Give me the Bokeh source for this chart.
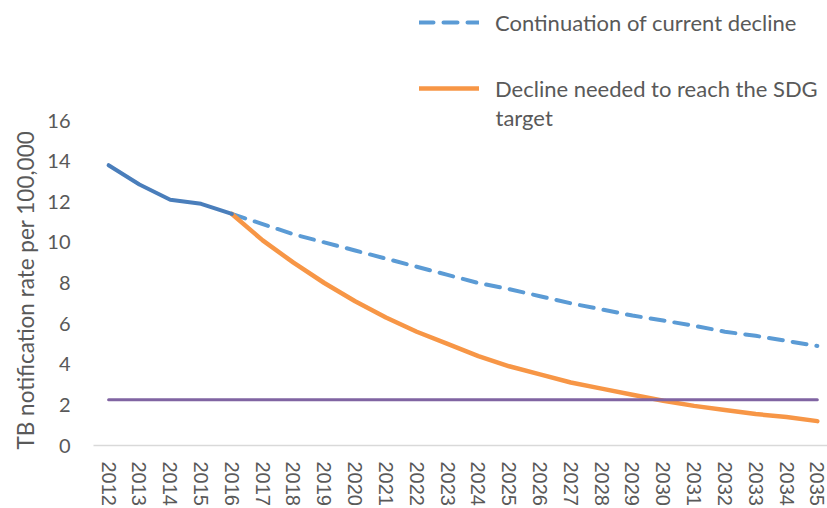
from bokeh.plotting import figure
from bokeh.models import FixedTicker, Legend, LegendItem, Range1d, Title, Label
from bokeh.embed import file_html
from bokeh.resources import INLINE

years = list(range(2012, 2036))
year_labels = [str(y) for y in years]
actual_years = [2012, 2013, 2014, 2015, 2016]
actual = [13.8, 12.85, 12.1, 11.9, 11.4]
proj_years = list(range(2016, 2036))
continuation = [11.4, 10.9, 10.4, 10.0, 9.6, 9.2, 8.8, 8.4, 8.0, 7.7,
                7.35, 7.0, 6.7, 6.4, 6.15, 5.9, 5.6, 5.4, 5.15, 4.9]
sdg_needed = [11.4, 10.1, 9.0, 8.0, 7.1, 6.3, 5.6, 5.0, 4.4, 3.9,
              3.5, 3.1, 2.8, 2.5, 2.2, 1.95, 1.75, 1.55, 1.4, 1.2]
target = [2.25] * len(years)
y_ticks = [0, 2, 4, 6, 8, 10, 12, 14, 16]
legend_labels = ["Continuation of current decline",
                 "Decline needed to reach the SDG", "target"]

TXT = "#595959"
FONT = "Lato"

p = figure(width=827, height=508, output_backend="svg", toolbar_location=None,
           x_range=Range1d(2011.51, 2035.33), y_range=Range1d(0, 21.908),
           min_border_top=0, min_border_right=0, min_border_left=93,
           min_border_bottom=0)
p.outline_line_color = None
p.xgrid.visible = False
p.ygrid.visible = False

r_cont = p.line(proj_years, continuation, line_color="#5B9BD5", line_width=4,
                line_dash="14 10", line_cap="round")
r_sdg = p.line(proj_years, sdg_needed, line_color="#F79646", line_width=4.5,
               line_cap="round")
p.line(actual_years, actual, line_color="#4A7EBB", line_width=4, line_cap="round")
p.line(years, target, line_color="#8064A2", line_width=3, line_cap="round")

xa = p.xaxis[0]
xa.ticker = FixedTicker(ticks=years)
xa.major_label_overrides = {y: s for y, s in zip(years, year_labels)}
xa.major_label_orientation = "vertical"
xa.major_tick_line_color = None
xa.minor_tick_line_color = None
xa.axis_line_color = "#D9D9D9"
xa.axis_line_width = 1.5
xa.major_label_standoff = 10
xa.major_label_text_font = "Liberation Sans"
xa.major_label_text_font_size = "20px"
xa.major_label_text_color = TXT

ya = p.yaxis[0]
ya.ticker = FixedTicker(ticks=y_ticks)
ya.axis_line_color = None
ya.major_tick_line_color = None
ya.minor_tick_line_color = None
ya.major_label_standoff = 17
ya.major_label_text_font = FONT
ya.major_label_text_font_size = "20px"
ya.major_label_text_color = TXT

ytitle = Title(text="TB notification rate per 100,000", align="left", offset=-4,
               text_font=FONT, text_font_size="22.5px", text_font_style="normal",
               text_color=TXT, standoff=12)
p.add_layout(ytitle, "left")


def make_legend(label, renderer, loc):
    lg = Legend(items=[LegendItem(label=label, renderers=[renderer])], location=loc)
    lg.border_line_color = None
    lg.background_fill_alpha = 0
    lg.padding = 0
    lg.margin = 0
    lg.glyph_width = 60
    lg.glyph_height = 28
    lg.label_height = 28
    lg.label_standoff = 16
    lg.label_text_font = FONT
    lg.label_text_font_size = "22px"
    lg.label_text_color = TXT
    return lg


p.add_layout(make_legend(legend_labels[0], r_cont, (326, 409)), "center")
p.add_layout(make_legend(legend_labels[1], r_sdg, (326, 343)), "center")
p.add_layout(Label(x=402, y=328, x_units="screen", y_units="screen",
                   text=legend_labels[2], text_baseline="middle",
                   text_font=FONT, text_font_size="22px", text_color=TXT))

open("out.html", "w").write(file_html(p, INLINE))
